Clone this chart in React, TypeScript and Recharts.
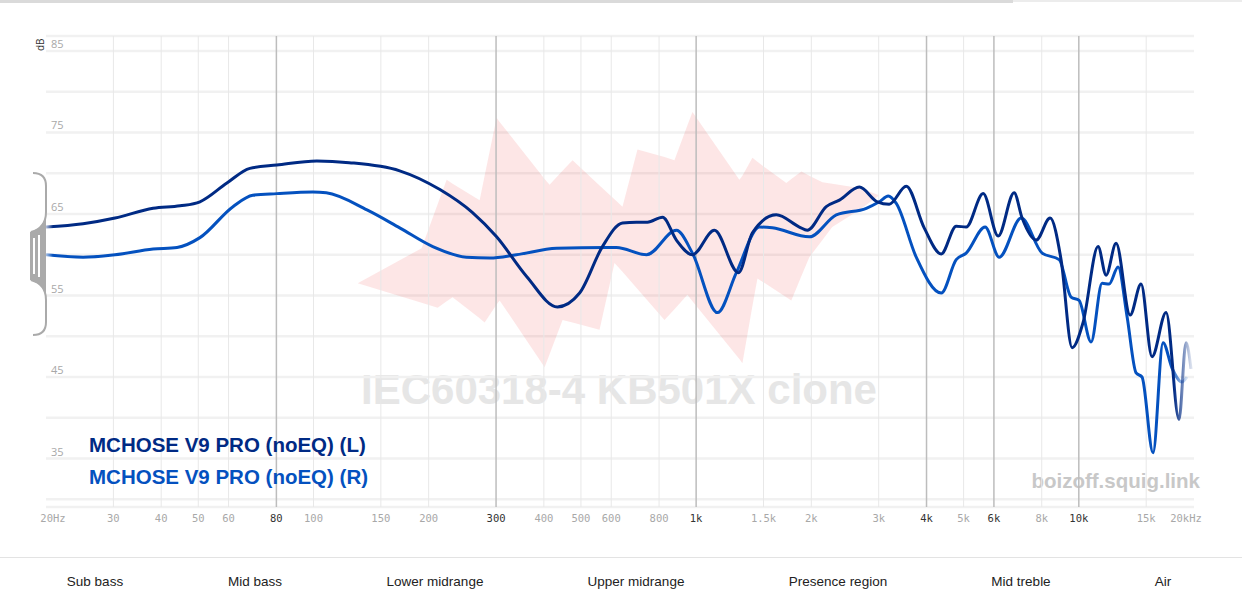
import * as React from "react";
import {
  Area,
  CartesianGrid,
  ComposedChart,
  Line,
  ReferenceLine,
  XAxis,
  YAxis,
} from "recharts";

// frequency ticks shown under the graph
const FREQ_TICKS = [
  20, 30, 40, 50, 60, 80, 100, 150, 200, 300, 400, 500, 600, 800, 1000, 1500,
  2000, 3000, 4000, 5000, 6000, 8000, 10000, 15000, 20000,
];
const FREQ_LABELS = [
  "20Hz", "30", "40", "50", "60", "80", "100", "150", "200", "300", "400",
  "500", "600", "800", "1k", "1.5k", "2k", "3k", "4k", "5k", "6k", "8k",
  "10k", "15k", "20kHz",
];
const MAJOR_FREQS = [80, 300, 1000, 4000, 6000, 10000];
const DB_TICKS = [30, 35, 40, 45, 50, 55, 60, 65, 70, 75, 80, 85];
const DB_LABELS = [35, 45, 55, 65, 75, 85];

const BANDS = [
  "Sub bass",
  "Mid bass",
  "Lower midrange",
  "Upper midrange",
  "Presence region",
  "Mid treble",
  "Air",
];
const BAND_CENTERS = [95, 255, 435, 636, 838, 1021, 1163];

const LEGEND_NAMES = ["MCHOSE V9 PRO (noEQ) (L)", "MCHOSE V9 PRO (noEQ) (R)"];

// left channel
const L_FREQ = [
  20, 25, 30.3, 38.1, 44.8, 50.5, 59.4, 68.2, 80.2, 102, 124, 168, 214, 260,
  301, 361, 434, 496, 569, 642, 698, 746, 817, 888, 978, 1116, 1290, 1403,
  1620, 1861, 1952, 2188, 2368, 2670, 2974, 3196, 3540, 3944, 4370, 4782, 5078,
  5624, 6156, 6776, 7110, 7735, 8414, 8988, 9606, 10262, 11230, 11784, 12514,
  13616, 14542, 15536, 16906, 18278, 19064, 19644,
];
const L_DB = [
  63.4, 63.8, 64.5, 65.7, 66.0, 66.5, 68.8, 70.6, 71.0, 71.5, 71.3, 70.3, 68.0,
  65.2, 62.2, 57.3, 53.6, 55.3, 61.0, 63.9, 64.0, 64.0, 64.6, 61.8, 60.0, 63.0,
  57.8, 62.7, 64.9, 63.4, 63.0, 65.9, 66.7, 68.3, 66.5, 66.2, 68.4, 63.3, 60.1,
  63.5, 63.4, 67.5, 62.3, 67.6, 64.5, 61.8, 64.5, 59.4, 48.6, 51.7, 61.0, 57.5,
  61.4, 52.6, 56.4, 47.5, 52.9, 39.8, 49.2, 46.0,
];

// right channel
const R_FREQ = [
  20, 25, 30.3, 38.1, 44, 50.5, 61.6, 69.4, 80.2, 99.6, 108, 138, 168, 205,
  251, 289, 339, 432, 583, 619, 742, 888, 978, 1137, 1274, 1463, 1582, 1976,
  2324, 2784, 3011, 3178, 3334, 3760, 4370, 4782, 5078, 5692, 6194, 7070, 8020,
  8884, 9546, 10016, 10766, 11504, 12000, 12666, 13372, 14116, 14628, 15632,
  16600, 17522, 18608, 19178,
];
const R_DB = [
  60.0, 59.7, 60.0, 60.7, 60.9, 62.1, 65.9, 67.3, 67.5, 67.7, 67.6, 65.5, 63.3,
  61.0, 59.7, 59.6, 60.0, 60.8, 60.9, 60.9, 60.0, 63.0, 60.2, 52.9, 57.8, 63.4,
  63.3, 62.2, 64.9, 65.7, 66.5, 67.2, 66.3, 59.7, 55.3, 59.4, 60.2, 63.4, 59.7,
  64.5, 60.2, 59.4, 54.8, 54.4, 49.3, 56.5, 56.4, 58.5, 52.4, 45.5, 45.0, 35.7,
  49.2, 46.1, 44.4, 45.0,
];

// pink band (upper / lower edge)
const T_FREQ = [
  130.5, 191.7, 211.1, 222.9, 231.0, 271.8, 280.1, 301.0, 306.5, 401.8, 414.0,
  447.6, 475.4, 559.2, 611.8, 642.0, 702.6, 826.6, 877.6, 949.0, 978.2, 1297,
  1321, 1403, 1446, 1721, 1773, 1884, 1976, 2138, 2268, 2670, 3011,
];
const T_HIGH = [
  56.5, 60.8, 66.2, 69.2, 68.7, 66.7, 69.7, 76.8, 76.3, 69.3, 68.6, 70.3, 71.6,
  68.5, 66.8, 65.9, 72.9, 72.0, 71.6, 75.9, 77.5, 69.2, 69.7, 71.9, 71.4, 68.8,
  69.3, 70.2, 69.7, 68.9, 68.7, 68.2, 67.3,
];
const T_LOW = [
  56.5, 54.1, 53.5, 54.3, 54.8, 52.2, 51.7, 53.9, 54.4, 46.2, 47.8, 52.0, 51.7,
  50.8, 59.0, 57.9, 55.8, 52.0, 53.3, 55.1, 54.3, 47.2, 46.7, 53.7, 57.1, 54.8,
  54.4, 57.4, 59.7, 61.8, 63.4, 65.5, 67.3,
];

const L_COLOR = "#002a84";
const R_COLOR = "#0451bf";

const leftData = L_FREQ.map((freq, i) => ({ freq, db: L_DB[i] }));
const rightData = R_FREQ.map((freq, i) => ({ freq, db: R_DB[i] }));
const targetData = T_FREQ.map((freq, i) => ({
  freq,
  range: [T_LOW[i], T_HIGH[i]],
}));

const FreqTick = (props: any) => {
  const { x, y, payload } = props;
  const i = FREQ_TICKS.indexOf(payload.value);
  const major = MAJOR_FREQS.includes(payload.value);
  const dx = i === 0 ? 7 : i === FREQ_TICKS.length - 1 ? -8 : 0;
  return (
    <text
      x={x + dx}
      y={y}
      dy={15}
      textAnchor="middle"
      fontFamily="'DejaVu Sans Mono', monospace"
      fontSize={10.5}
      fill={major ? "#333" : "#a8a8a8"}
    >
      {FREQ_LABELS[i]}
    </text>
  );
};

const DbTick = (props: any) => {
  const { x, y, payload } = props;
  if (!DB_LABELS.includes(payload.value)) return <g />;
  return (
    <text
      x={x}
      y={y}
      dy={-3}
      textAnchor="start"
      fontFamily="'Open Sans', sans-serif"
      fontSize={11}
      fill="#a8a8a8"
    >
      {payload.value}
    </text>
  );
};

function Handle() {
  return (
    <svg
      width={50}
      height={170}
      viewBox="0 170 50 170"
      style={{ position: "absolute", left: 0, top: 170 }}
    >
      <path
        d="M33,173 Q46,173 46,186 L46,212 Q46,228 31,232 M31,280 Q46,284 46,300 L46,322 Q46,335 33,335"
        stroke="#aaa"
        strokeWidth={2}
        fill="none"
      />
      <path d="M46,210 Q46,228 30,232 L30,280 Q46,284 46,302 Z" fill="#aaa" />
      <rect x={33} y={238} width={2} height={36} fill="#fff" />
      <rect x={38} y={235} width={2} height={42} fill="#fff" />
    </svg>
  );
}

export default function App() {
  return (
    <div
      style={{
        position: "absolute",
        left: 0,
        top: 0,
        width: 1242,
        height: 608,
        background: "#fff",
        overflow: "hidden",
        fontFamily: "'Liberation Sans', Arial, sans-serif",
      }}
    >
      {/* top bar */}
      <div
        style={{
          position: "absolute",
          left: 0,
          top: 0,
          width: 1242,
          height: 2,
          background: "#ececec",
        }}
      />
      <div
        style={{
          position: "absolute",
          left: 0,
          top: 0,
          width: 1013,
          height: 3,
          background: "#dadada",
        }}
      />

      {/* watermarks */}
      <div
        style={{
          position: "absolute",
          left: 0,
          width: 1242,
          top: 366,
          textAlign: "center",
          fontWeight: "bold",
          fontSize: 42,
          color: "#e6e6e6",
        }}
      >
        <span style={{ position: "relative", left: -2 }}>IEC60318-4 KB501X clone</span>
      </div>
      <div
        style={{
          position: "absolute",
          right: 42,
          top: 469,
          fontWeight: "bold",
          fontSize: 20.5,
          color: "#c8c8c8",
        }}
      >
        boizoff.squig.link
      </div>

      <div
        style={{
          position: "absolute",
          left: 33,
          top: 38,
          fontSize: 10,
          color: "#333",
          transform: "rotate(-90deg)",
          transformOrigin: "left top",
          fontFamily: "'Open Sans', sans-serif",
        }}
      >
        <span style={{ position: "relative", left: -13 }}>dB</span>
      </div>

      <div style={{ position: "absolute", left: 0, top: 0 }}>
        <ComposedChart
          width={1242}
          height={540}
          margin={{ top: 36, right: 48, bottom: 0, left: 46 }}
        >
          <defs>
            <linearGradient id="fadeL" x1="0" y1="0" x2="1" y2="0">
              <stop offset="0" stopColor={L_COLOR} stopOpacity={0.3} />
              <stop offset="0.006" stopColor={L_COLOR} stopOpacity={1} />
              <stop offset="0.985" stopColor={L_COLOR} stopOpacity={1} />
              <stop offset="1" stopColor={L_COLOR} stopOpacity={0.15} />
            </linearGradient>
            <linearGradient id="fadeR" x1="0" y1="0" x2="1" y2="0">
              <stop offset="0" stopColor={R_COLOR} stopOpacity={0.3} />
              <stop offset="0.006" stopColor={R_COLOR} stopOpacity={1} />
              <stop offset="0.985" stopColor={R_COLOR} stopOpacity={1} />
              <stop offset="1" stopColor={R_COLOR} stopOpacity={0.15} />
            </linearGradient>
          </defs>
          <CartesianGrid vertical={false} stroke="#f1f1f1" strokeWidth={2.5} />
          <XAxis
            dataKey="freq"
            type="number"
            scale="log"
            domain={[20, 20000]}
            ticks={FREQ_TICKS}
            interval={0}
            allowDataOverflow
            axisLine={false}
            tickLine={false}
            tickSize={0}
            tickMargin={0}
            height={33}
            tick={<FreqTick />}
          />
          <YAxis
            type="number"
            domain={[29.05, 86.84]}
            ticks={DB_TICKS}
            interval={0}
            allowDataOverflow
            mirror
            axisLine={false}
            tickLine={false}
            tickSize={0}
            tickMargin={5}
            tick={<DbTick />}
          />
          {FREQ_TICKS.slice(1, -1).map((f) => (
            <ReferenceLine
              key={f}
              x={f}
              stroke={MAJOR_FREQS.includes(f) ? "#bdbdbd" : "#e8e8e8"}
              strokeWidth={MAJOR_FREQS.includes(f) ? 1.5 : 1}
            />
          ))}
          <Area
            data={targetData}
            dataKey="range"
            type="linear"
            stroke="none"
            fill="rgb(238, 60, 60)"
            fillOpacity={0.13}
            isAnimationActive={false}
            activeDot={false}
          />
          <Line
            data={rightData}
            dataKey="db"
            name="R"
            type="monotone"
            stroke="url(#fadeR)"
            strokeWidth={3}
            dot={false}
            activeDot={false}
            isAnimationActive={false}
          />
          <Line
            data={leftData}
            dataKey="db"
            name="L"
            type="monotone"
            stroke="url(#fadeL)"
            strokeWidth={3}
            dot={false}
            activeDot={false}
            isAnimationActive={false}
          />
        </ComposedChart>
      </div>

      {/* legend */}
      <div
        style={{
          position: "absolute",
          left: 89,
          top: 429,
          fontWeight: "bold",
          fontSize: 20.5,
          lineHeight: "32px",
        }}
      >
        <div style={{ color: L_COLOR }}>{LEGEND_NAMES[0]}</div>
        <div style={{ color: R_COLOR }}>{LEGEND_NAMES[1]}</div>
      </div>

      <Handle />

      {/* band strip */}
      <div
        style={{
          position: "absolute",
          left: 0,
          top: 557,
          width: 1242,
          height: 1,
          background: "#e3e3e3",
        }}
      />
      {BANDS.map((b, i) => (
        <div
          key={b}
          style={{
            position: "absolute",
            top: 574,
            left: BAND_CENTERS[i] - 100,
            width: 200,
            textAlign: "center",
            fontSize: 13.5,
            color: "#222",
          }}
        >
          {b}
        </div>
      ))}
    </div>
  );
}
